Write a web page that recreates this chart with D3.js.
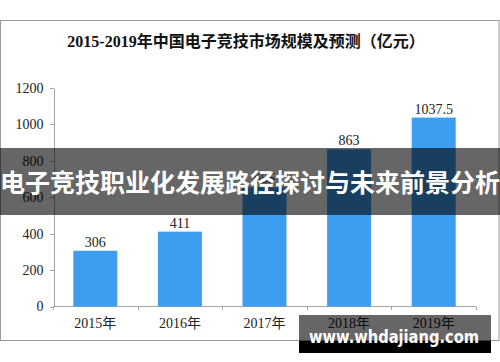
<!DOCTYPE html>
<meta charset="utf-8">
<style>
body { margin: 0; background: #fff; }
svg text { font-family: "Liberation Serif", "Noto Sans CJK SC", serif; }
.axis path, .axis line { stroke: #a6a6a6; shape-rendering: crispEdges; }
</style>
<body>
<script src="https://d3js.org/d3.v7.min.js"></script>
<script>

// data
var years = ["2015年", "2016年", "2017年", "2018年", "2019年"];
var values = [306, 411, 655, 863, 1037.5];
var valueLabels = ["306", "411", "655", "863", "1037.5"];
var yTicks = [0, 200, 400, 600, 800, 1000, 1200];

var width = 500, height = 362;

var svg = d3.select("body").append("svg")
    .attr("width", width)
    .attr("height", height);

// chart frame
svg.append("rect")
    .attr("x", 0.5).attr("y", 20.5)
    .attr("width", 498.5).attr("height", 320)
    .attr("fill", "#fff")
    .attr("stroke", "#9a9a9a");

svg.append("text")
    .attr("x", 246).attr("y", 47)
    .attr("text-anchor", "middle")
    .style("font-size", "16px")
    .style("font-weight", "bold")
    .attr("fill", "#111")
    .text("2015-2019年中国电子竞技市场规模及预测（亿元）");

// scales
var x = d3.scaleBand().domain(years).range([53, 476]).paddingInner(0.48).paddingOuter(0.24);
var y = d3.scaleLinear().domain([0, 1200]).range([306.5, 88]);

// y axis
var yAxis = svg.append("g")
    .attr("class", "axis")
    .attr("transform", "translate(53.5,0)")
    .call(d3.axisLeft(y).tickValues(yTicks).tickFormat(d3.format("d"))
      .tickSize(4).tickPadding(6).tickSizeOuter(0));
yAxis.selectAll("text").style("font-size", "14px").attr("fill", "#222");

// x axis: line with ticks at band edges
var xg = svg.append("g").attr("class", "axis");
xg.append("line")
    .attr("x1", 53).attr("x2", 476)
    .attr("y1", 306.5).attr("y2", 306.5);
var edges = d3.range(years.length + 1).map(function(i) { return 53 + i * (423 / years.length); });
xg.selectAll(".edge")
    .data(edges)
  .enter().append("line")
    .attr("x1", function(d) { return Math.round(d) + 0.5; })
    .attr("x2", function(d) { return Math.round(d) + 0.5; })
    .attr("y1", 306.5).attr("y2", 310);

svg.selectAll(".xlab")
    .data(years)
  .enter().append("text")
    .attr("x", function(d) { return x(d) + x.bandwidth() / 2; })
    .attr("y", 328)
    .attr("text-anchor", "middle")
    .style("font-size", "14px")
    .attr("fill", "#222")
    .text(function(d) { return d; });

// bars
svg.selectAll(".bar")
    .data(values)
  .enter().append("rect")
    .attr("x", function(d, i) { return x(years[i]); })
    .attr("y", function(d) { return y(d); })
    .attr("width", x.bandwidth())
    .attr("height", function(d) { return y(0) - y(d); })
    .attr("fill", "#3d9df0");

svg.selectAll(".vlab")
    .data(values)
  .enter().append("text")
    .attr("x", function(d, i) { return x(years[i]) + x.bandwidth() / 2; })
    .attr("y", function(d) { return y(d) - 4; })
    .attr("text-anchor", "middle")
    .style("font-size", "14px")
    .attr("fill", "#222")
    .text(function(d, i) { return valueLabels[i]; });

// overlay banner
svg.append("rect")
    .attr("x", 0).attr("y", 148)
    .attr("width", 500).attr("height", 67)
    .attr("fill", "rgba(0,0,0,0.6)");
svg.append("text")
    .attr("x", 250).attr("y", 192)
    .attr("text-anchor", "middle")
    .style("font-family", "'Noto Sans CJK SC', sans-serif")
    .style("font-size", "25px")
    .style("font-weight", "bold")
    .attr("fill", "#fff")
    .text("电子竞技职业化发展路径探讨与未来前景分析");

// bottom-right site banner
svg.append("rect")
    .attr("x", 299).attr("y", 315)
    .attr("width", 192).attr("height", 26)
    .attr("fill", "rgba(0,0,0,0.6)");
svg.append("rect")
    .attr("x", 299).attr("y", 341)
    .attr("width", 192).attr("height", 12)
    .attr("fill", "#000");
svg.append("text")
    .attr("x", 394).attr("y", 343)
    .attr("text-anchor", "middle")
    .attr("textLength", 170)
    .attr("lengthAdjust", "spacingAndGlyphs")
    .style("font-family", "'DejaVu Sans', sans-serif")
    .style("font-size", "18px")
    .style("font-weight", "bold")
    .attr("fill", "#fff")
    .text("www.whdajiang.com");

</script>
</body>
